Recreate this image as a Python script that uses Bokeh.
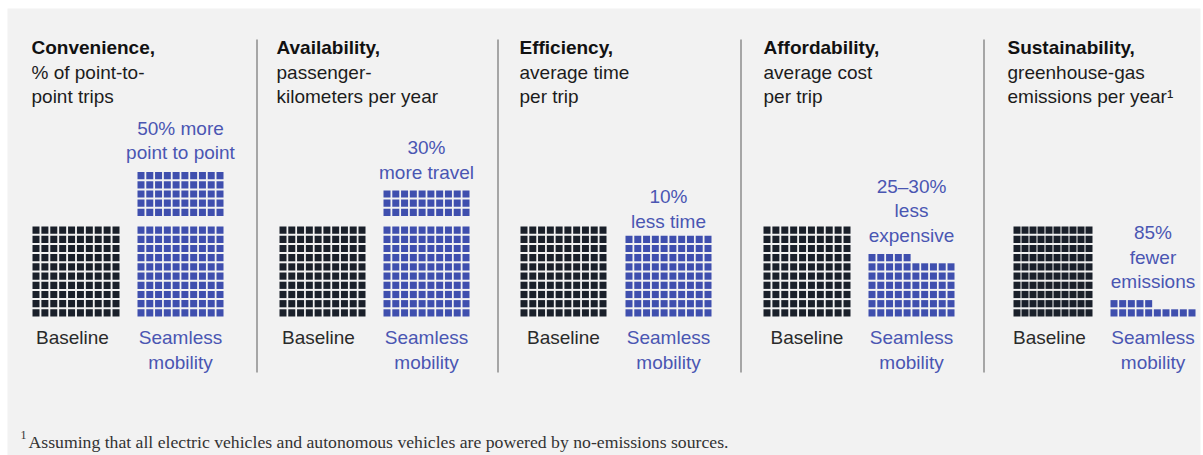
from bokeh.plotting import figure
from bokeh.models import Range1d, ColumnDataSource
from bokeh.core.properties import value
from bokeh.embed import file_html
from bokeh.resources import INLINE

# ---------------- data ----------------
categories = ["Convenience,", "Availability,", "Efficiency,", "Affordability,", "Sustainability,"]
subtitles = [
    ["% of point-to-", "point trips"],
    ["passenger-", "kilometers per year"],
    ["average time", "per trip"],
    ["average cost", "per trip"],
    ["greenhouse-gas", "emissions per year\u00b9"],
]
baseline_values = [100, 100, 100, 100, 100]
seamless_values = [150, 130, 90, 65, 15]
annotations = [
    ["50% more", "point to point"],
    ["30%", "more travel"],
    ["10%", "less time"],
    ["25\u201330%", "less", "expensive"],
    ["85%", "fewer", "emissions"],
]
baseline_label = "Baseline"
seamless_label = ["Seamless", "mobility"]
footnote_mark = "1"
footnote = "Assuming that all electric vehicles and autonomous vehicles are powered by no-emissions sources."

# ---------------- layout / style ----------------
W, H = 1203, 455
title_x = [31, 276, 519, 763, 1007]
base_left = [32, 279, 520, 763, 1013]
seam_left = [137, 383, 625, 868, 1110]
base_width = [87, 86, 86, 87, 79]
seam_width = [86, 86, 86, 86, 85]
base_label_x = [72, 318, 563, 806.5, 1049]
anno_gap = [19.5, 18, 14.5, 19, 18.5]
divider_x = [256, 497, 740, 983]
GRID_BOTTOM = 316
SQ_W = 7.0
SQ_H = 7.2
PITCH_Y = 9.2
GROUP_EXTRA = 8.5
COLS = 10
DARK = "#1a202a"
BLUE = "#3f4fae"
BLUE_TXT = "#4a56b2"
FONT = value("Liberation Sans")
FS = "19px"


def grid(n, left, width):
    pitch_x = (width - SQ_W) / (COLS - 1)
    L, R, T, B = [], [], [], []
    for i in range(n):
        g, w = divmod(i, 100)
        r, c = divmod(w, COLS)
        bottom = GRID_BOTTOM - r * PITCH_Y - g * (COLS * PITCH_Y + GROUP_EXTRA)
        top = bottom - SQ_H
        l = left + c * pitch_x
        L.append(l); R.append(l + SQ_W); T.append(top); B.append(bottom)
    return dict(left=L, right=R, top=T, bottom=B)


p = figure(width=W, height=H, x_range=Range1d(0, W), y_range=Range1d(H, 0),
           output_backend="svg", toolbar_location=None, min_border=0,
           x_axis_location=None, y_axis_location=None)
p.grid.visible = False
p.outline_line_color = None
p.background_fill_color = "white"
p.border_fill_color = "white"

# panel background
p.quad(left=[7], right=[1200], top=[8], bottom=[H], color="#f2f2f2", line_color=None)

# dividers
p.segment(x0=[x + 0.5 for x in divider_x], y0=39, x1=[x + 0.5 for x in divider_x], y1=372,
          line_color="#5a5a5a", line_width=1)

tx, ty, tt = [], [], []          # titles
sx, sy, st = [], [], []          # subtitles
ax, ay, at = [], [], []          # blue annotations
bx, by, bt = [], [], []          # baseline labels
mx, my, mt = [], [], []          # seamless labels

for k in range(len(categories)):
    gb = grid(baseline_values[k], base_left[k], base_width[k])
    p.quad(source=ColumnDataSource(gb), left="left", right="right", top="top", bottom="bottom",
           color=DARK, line_color=None)
    gs = grid(seamless_values[k], seam_left[k], seam_width[k])
    p.quad(source=ColumnDataSource(gs), left="left", right="right", top="top", bottom="bottom",
           color=BLUE, line_color=None)

    tx.append(title_x[k]); ty.append(47); tt.append(categories[k])
    for j, line in enumerate(subtitles[k]):
        sx.append(title_x[k]); sy.append(71.5 + 24.5 * j); st.append(line)

    seam_c = seam_left[k] + seam_width[k] / 2
    top = min(gs["top"])
    n = len(annotations[k])
    for j, line in enumerate(annotations[k]):
        ax.append(seam_c); ay.append(top - anno_gap[k] - (n - 1 - j) * 24.5); at.append(line)

    bx.append(base_label_x[k]); by.append(337); bt.append(baseline_label)
    for j, line in enumerate(seamless_label):
        mx.append(seam_c); my.append(337 + 24.5 * j); mt.append(line)

p.text(x=tx, y=ty, text=tt, text_font=FONT, text_font_size=FS, text_font_style="bold",
       text_color="#111111", text_baseline="alphabetic", text_align="left")
p.text(x=sx, y=sy, text=st, text_font=FONT, text_font_size=FS,
       text_color="#1c1c1c", text_baseline="alphabetic", text_align="left")
p.text(x=ax, y=ay, text=at, text_font=FONT, text_font_size=FS,
       text_color=BLUE_TXT, text_baseline="alphabetic", text_align="center")
p.text(x=bx, y=by, text=bt, text_font=FONT, text_font_size=FS,
       text_color="#2a2a2a", text_baseline="alphabetic", text_align="center")
p.text(x=mx, y=my, text=mt, text_font=FONT, text_font_size=FS,
       text_color=BLUE_TXT, text_baseline="alphabetic", text_align="center")

# footnote
p.text(x=[20], y=[434], text=[footnote_mark], text_font=value("Liberation Serif"),
       text_font_size="12px", text_color="#333333", text_baseline="alphabetic")
p.text(x=[28], y=[441], text=[footnote], text_font=value("Liberation Serif"),
       text_font_size="17.7px", text_color="#333333", text_baseline="alphabetic")

open("out.html", "w").write(file_html(p, INLINE))
